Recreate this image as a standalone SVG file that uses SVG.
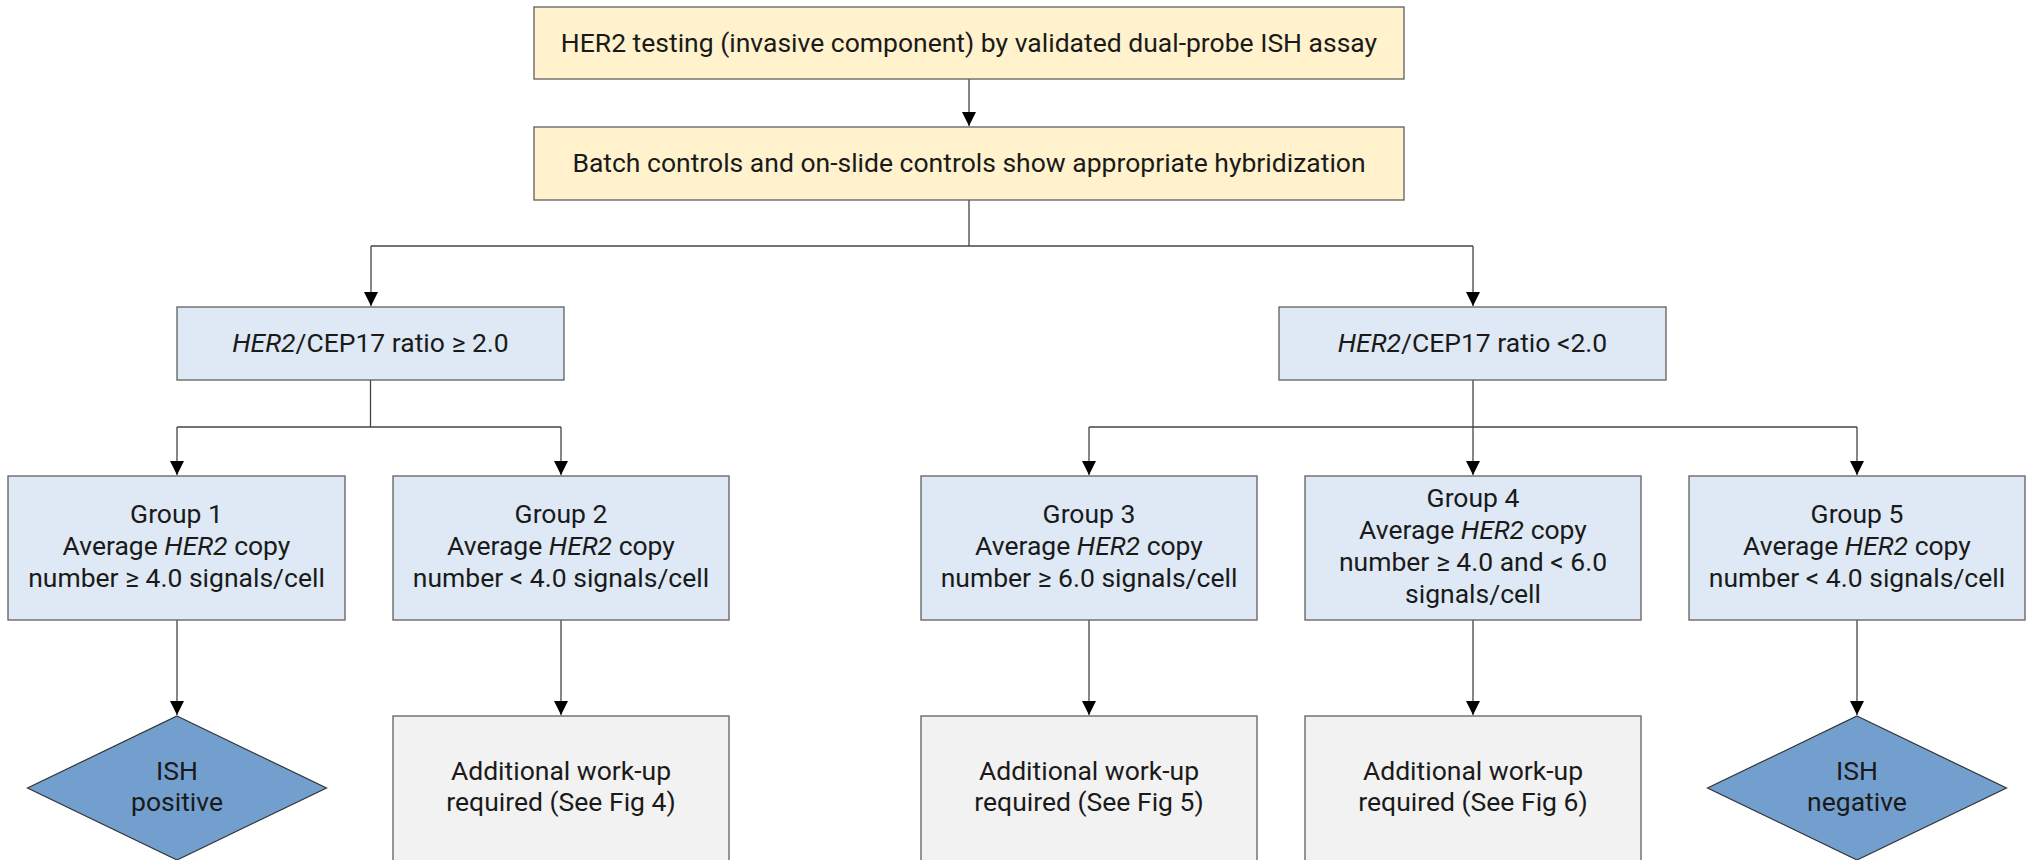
<svg xmlns="http://www.w3.org/2000/svg" width="2029" height="860" viewBox="0 0 2029 860">
  <style>
    .box { stroke: #5f5f5f; stroke-width: 1.3; }
    .start { fill: #fff2cc; }
    .ratio, .group { fill: #dee9f5; }
    .workup { fill: #f2f2f2; }
    .result { fill: #739fcf; stroke: #333333; stroke-width: 1.2; }
    .lbl { font-family: Roboto, "Liberation Sans", sans-serif; font-size: 26.5px; fill: #1a1a1a; text-anchor: middle; }
    .it { font-style: italic; }
    .conn { fill: none; stroke: #444444; stroke-width: 1.3; }
  </style>
  <defs>
    <marker id="arrow" markerWidth="14" markerHeight="14" refX="14" refY="7" orient="auto" markerUnits="userSpaceOnUse">
      <path d="M0,0 L14,7 L0,14 Z" fill="#000000"/>
    </marker>
  </defs>
  <rect width="2029" height="860" fill="#ffffff"/>

  <!-- connectors -->
  <g id="connectors">
    <path class="conn" d="M969,79 V126" marker-end="url(#arrow)"/>
    <path class="conn" d="M969,200 V246"/>
    <path class="conn" d="M371,246 H1473"/>
    <path class="conn" d="M371,246 V306" marker-end="url(#arrow)"/>
    <path class="conn" d="M1473,246 V306" marker-end="url(#arrow)"/>

    <path class="conn" d="M370.5,380 V427"/>
    <path class="conn" d="M177,427 H561"/>
    <path class="conn" d="M177,427 V475" marker-end="url(#arrow)"/>
    <path class="conn" d="M561,427 V475" marker-end="url(#arrow)"/>

    <path class="conn" d="M1473,380 V427"/>
    <path class="conn" d="M1089,427 H1857"/>
    <path class="conn" d="M1089,427 V475" marker-end="url(#arrow)"/>
    <path class="conn" d="M1473,427 V475" marker-end="url(#arrow)"/>
    <path class="conn" d="M1857,427 V475" marker-end="url(#arrow)"/>

    <path class="conn" d="M177,620 V715" marker-end="url(#arrow)"/>
    <path class="conn" d="M561,620 V715" marker-end="url(#arrow)"/>
    <path class="conn" d="M1089,620 V715" marker-end="url(#arrow)"/>
    <path class="conn" d="M1473,620 V715" marker-end="url(#arrow)"/>
    <path class="conn" d="M1857,620 V715" marker-end="url(#arrow)"/>
  </g>

  <!-- top steps -->
  <g id="testing">
    <rect class="box start" x="534" y="7" width="870" height="72"/>
    <text class="lbl" x="969" y="52">HER2 testing (invasive component) by validated dual-probe ISH assay</text>
  </g>
  <g id="controls">
    <rect class="box start" x="534" y="127" width="870" height="73"/>
    <text class="lbl" x="969" y="172">Batch controls and on-slide controls show appropriate hybridization</text>
  </g>

  <!-- ratio split -->
  <g id="ratio-high">
    <rect class="box ratio" x="177" y="307" width="387" height="73"/>
    <text class="lbl" x="370.5" y="352"><tspan class="it">HER2</tspan>/CEP17 ratio ≥ 2.0</text>
  </g>
  <g id="ratio-low">
    <rect class="box ratio" x="1279" y="307" width="387" height="73"/>
    <text class="lbl" x="1472.5" y="352"><tspan class="it">HER2</tspan>/CEP17 ratio &lt;2.0</text>
  </g>

  <!-- groups -->
  <g id="group1">
    <rect class="box group" x="8" y="476" width="337" height="144"/>
    <text class="lbl" x="176.5" y="523">Group 1</text>
    <text class="lbl" x="176.5" y="555">Average <tspan class="it">HER2</tspan> copy</text>
    <text class="lbl" x="176.5" y="587">number ≥ 4.0 signals/cell</text>
  </g>
  <g id="group2">
    <rect class="box group" x="393" y="476" width="336" height="144"/>
    <text class="lbl" x="561" y="523">Group 2</text>
    <text class="lbl" x="561" y="555">Average <tspan class="it">HER2</tspan> copy</text>
    <text class="lbl" x="561" y="587">number &lt; 4.0 signals/cell</text>
  </g>
  <g id="group3">
    <rect class="box group" x="921" y="476" width="336" height="144"/>
    <text class="lbl" x="1089" y="523">Group 3</text>
    <text class="lbl" x="1089" y="555">Average <tspan class="it">HER2</tspan> copy</text>
    <text class="lbl" x="1089" y="587">number ≥ 6.0 signals/cell</text>
  </g>
  <g id="group4">
    <rect class="box group" x="1305" y="476" width="336" height="144"/>
    <text class="lbl" x="1473" y="507">Group 4</text>
    <text class="lbl" x="1473" y="539">Average <tspan class="it">HER2</tspan> copy</text>
    <text class="lbl" x="1473" y="571">number ≥ 4.0 and &lt; 6.0</text>
    <text class="lbl" x="1473" y="603">signals/cell</text>
  </g>
  <g id="group5">
    <rect class="box group" x="1689" y="476" width="336" height="144"/>
    <text class="lbl" x="1857" y="523">Group 5</text>
    <text class="lbl" x="1857" y="555">Average <tspan class="it">HER2</tspan> copy</text>
    <text class="lbl" x="1857" y="587">number &lt; 4.0 signals/cell</text>
  </g>

  <!-- outcomes -->
  <g id="ish-positive">
    <polygon class="result" points="177,716 326.5,788 177,860 27.5,788"/>
    <text class="lbl" x="177" y="780">ISH</text>
    <text class="lbl" x="177" y="811">positive</text>
  </g>
  <g id="workup-fig4">
    <rect class="box workup" x="393" y="716" width="336" height="150"/>
    <text class="lbl" x="561" y="780">Additional work-up</text>
    <text class="lbl" x="561" y="811">required (See Fig 4)</text>
  </g>
  <g id="workup-fig5">
    <rect class="box workup" x="921" y="716" width="336" height="150"/>
    <text class="lbl" x="1089" y="780">Additional work-up</text>
    <text class="lbl" x="1089" y="811">required (See Fig 5)</text>
  </g>
  <g id="workup-fig6">
    <rect class="box workup" x="1305" y="716" width="336" height="150"/>
    <text class="lbl" x="1473" y="780">Additional work-up</text>
    <text class="lbl" x="1473" y="811">required (See Fig 6)</text>
  </g>
  <g id="ish-negative">
    <polygon class="result" points="1857,716 2006.5,788 1857,860 1707.5,788"/>
    <text class="lbl" x="1857" y="780">ISH</text>
    <text class="lbl" x="1857" y="811">negative</text>
  </g>
</svg>
